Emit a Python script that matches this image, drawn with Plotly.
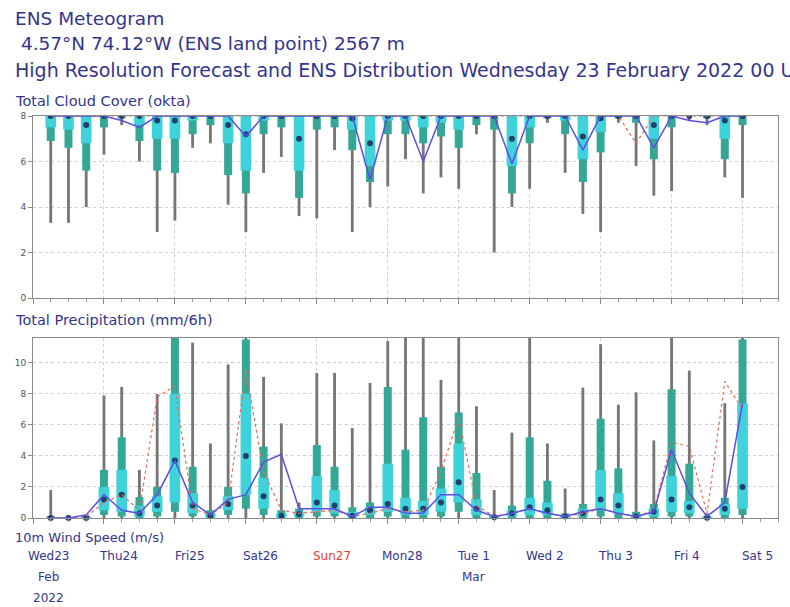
import plotly.graph_objects as go
import pandas as pd

# Pasos de 6 horas y días del eje
times = pd.date_range('2022-02-23 06:00', periods=40, freq='6h')
days = pd.date_range('2022-02-23', periods=11, freq='D')
day_labels = ['Wed23', 'Thu24', 'Fri25', 'Sat26', 'Sun27', 'Mon28', 'Tue 1', 'Wed 2', 'Thu 3', 'Fri 4', 'Sat 5']
month_labels = {'Wed23': 'Feb', 'Tue 1': 'Mar'}

# Nubosidad total (okta)
cc_min = [3.3, 3.3, 4.0, 6.3, 7.6, 6.0, 2.9, 3.4, 6.6, 6.8, 4.1, 2.9, 5.5, 6.2, 3.6, 3.5, 6.5, 2.9, 4.0, 4.9,
          6.1, 4.6, 5.3, 4.8, 7.2, 2.0, 4.0, 4.8, 7.7, 5.5, 3.7, 2.9, 7.7, 5.8, 4.5, 4.7, 7.8, 7.6, 5.3, 4.4]
cc_p10 = [6.9, 6.6, 5.6, 7.5, 7.9, 6.9, 5.6, 5.5, 7.2, 7.6, 5.4, 4.6, 7.2, 7.5, 4.4, 7.4, 7.5, 6.5, 5.1, 7.2,
          7.2, 6.8, 7.1, 6.6, 7.6, 7.4, 4.6, 6.8, 7.9, 7.2, 5.1, 6.4, 7.9, 7.7, 6.1, 7.5, 8.0, 7.9, 6.1, 7.6]
cc_p25 = [7.5, 7.4, 6.8, 8.0, 8.0, 7.6, 7.0, 7.0, 7.8, 8.0, 6.8, 5.6, 7.8, 8.0, 5.6, 8.0, 8.0, 7.4, 5.8, 7.8,
          7.8, 7.5, 7.7, 7.4, 8.0, 8.0, 5.8, 7.5, 8.0, 7.8, 6.1, 7.3, 8.0, 8.0, 7.0, 8.0, 8.0, 8.0, 7.0, 8.0]
cc_med = [8.0, 8.0, 7.6, 8.0, 8.0, 8.0, 7.8, 7.8, 8.0, 8.0, 7.6, 7.2, 8.0, 8.0, 7.0, 8.0, 8.0, 7.9, 6.8, 8.0,
          8.0, 8.0, 8.0, 8.0, 8.0, 8.0, 7.0, 8.0, 8.0, 8.0, 7.1, 7.9, 8.0, 8.0, 7.6, 8.0, 8.0, 8.0, 7.8, 8.0]
cc_p75 = [8.0, 8.0, 8.0, 8.0, 8.0, 8.0, 8.0, 8.0, 8.0, 8.0, 8.0, 8.0, 8.0, 8.0, 8.0, 8.0, 8.0, 8.0, 8.0, 8.0,
          8.0, 8.0, 8.0, 8.0, 8.0, 8.0, 8.0, 8.0, 8.0, 8.0, 8.0, 8.0, 8.0, 8.0, 8.0, 8.0, 8.0, 8.0, 8.0, 8.0]
cc_p90 = [8.0, 8.0, 8.0, 8.0, 8.0, 8.0, 8.0, 8.0, 8.0, 8.0, 8.0, 8.0, 8.0, 8.0, 8.0, 8.0, 8.0, 8.0, 8.0, 8.0,
          8.0, 8.0, 8.0, 8.0, 8.0, 8.0, 8.0, 8.0, 8.0, 8.0, 8.0, 8.0, 8.0, 8.0, 8.0, 8.0, 8.0, 8.0, 8.0, 8.0]
cc_max = [8.0, 8.0, 8.0, 8.0, 8.0, 8.0, 8.0, 8.0, 8.0, 8.0, 8.0, 8.0, 8.0, 8.0, 8.0, 8.0, 8.0, 8.0, 8.0, 8.0,
          8.0, 8.0, 8.0, 8.0, 8.0, 8.0, 8.0, 8.0, 8.0, 8.0, 8.0, 8.0, 8.0, 8.0, 8.0, 8.0, 8.0, 8.0, 8.0, 8.0]
cc_hres = [8.0, 8.0, 8.0, 8.0, 7.8, 7.5, 8.0, 8.0, 8.0, 8.0, 8.0, 7.1, 8.0, 8.0, 8.0, 8.0, 8.0, 8.0, 5.2, 8.0,
           8.0, 6.0, 8.0, 8.0, 8.0, 8.0, 5.9, 8.0, 8.0, 8.0, 6.5, 8.0, 8.0, 8.0, 6.6, 8.0, 7.8, 7.7, 8.0, 8.0]
cc_ctrl = [8.0, 8.0, 8.0, 8.0, 8.0, 8.0, 8.0, 8.0, 8.0, 8.0, 8.0, 8.0, 8.0, 8.0, 8.0, 8.0, 8.0, 8.0, 8.0, 8.0,
           8.0, 8.0, 8.0, 8.0, 8.0, 8.0, 8.0, 8.0, 8.0, 8.0, 8.0, 8.0, 8.0, 6.8, 8.0, 8.0, 8.0, 8.0, 8.0, 8.0]

# Precipitación total (mm/6h)
pr_min = [0.0, 0.0, 0.0, 0.0, 0.0, 0.0, 0.0, 0.0, 0.0, 0.0, 0.0, 0.0, 0.0, 0.0, 0.0, 0.0, 0.0, 0.0, 0.0, 0.0,
          0.0, 0.0, 0.0, 0.0, 0.0, 0.0, 0.0, 0.0, 0.0, 0.0, 0.0, 0.0, 0.0, 0.0, 0.0, 0.0, 0.0, 0.0, 0.0, 0.0]
pr_p10 = [0.0, 0.0, 0.0, 0.2, 0.1, 0.0, 0.1, 0.4, 0.1, 0.0, 0.2, 0.6, 0.2, 0.0, 0.0, 0.1, 0.1, 0.0, 0.0, 0.1,
          0.0, 0.0, 0.1, 0.4, 0.0, 0.0, 0.0, 0.0, 0.0, 0.0, 0.0, 0.1, 0.0, 0.0, 0.0, 0.1, 0.1, 0.0, 0.0, 0.2]
pr_p25 = [0.0, 0.0, 0.0, 0.5, 0.4, 0.1, 0.4, 1.0, 0.3, 0.05, 0.5, 1.5, 0.6, 0.05, 0.1, 0.4, 0.3, 0.05, 0.2, 0.4,
          0.2, 0.2, 0.4, 1.0, 0.2, 0.0, 0.1, 0.2, 0.2, 0.0, 0.1, 0.5, 0.3, 0.0, 0.1, 0.4, 0.3, 0.0, 0.2, 0.6]
pr_med = [0.0, 0.0, 0.0, 1.2, 1.5, 0.3, 0.8, 3.7, 0.8, 0.15, 0.9, 4.0, 1.4, 0.15, 0.25, 1.0, 0.8, 0.15, 0.5, 0.9,
          0.6, 0.6, 1.0, 2.3, 0.6, 0.05, 0.3, 0.7, 0.5, 0.1, 0.3, 1.2, 0.8, 0.1, 0.4, 1.2, 0.7, 0.02, 0.6, 2.0]
pr_p75 = [0.0, 0.0, 0.05, 2.0, 3.1, 0.8, 1.4, 8.0, 1.6, 0.3, 1.4, 8.0, 2.6, 0.3, 0.4, 2.7, 1.8, 0.4, 0.7, 3.5,
          1.3, 1.1, 1.9, 4.8, 1.2, 0.1, 0.5, 1.3, 1.0, 0.2, 0.6, 3.1, 1.6, 0.2, 0.6, 2.7, 1.1, 0.05, 0.9, 7.4]
pr_p90 = [0.1, 0.0, 0.1, 3.1, 5.2, 1.35, 2.0, 11.6, 3.3, 0.5, 2.0, 11.5, 4.6, 0.5, 0.6, 4.7, 3.3, 0.7, 1.0, 8.45,
          4.4, 6.5, 3.3, 6.8, 2.9, 0.2, 0.8, 5.2, 2.4, 0.3, 0.9, 6.4, 3.2, 0.4, 0.9, 8.3, 3.5, 0.1, 1.3, 11.5]
pr_max = [1.8, 0.1, 0.2, 7.9, 8.45, 3.1, 8.0, 11.6, 11.3, 4.8, 9.9, 11.6, 9.1, 6.1, 1.0, 9.35, 9.35, 5.8, 8.7, 11.4,
          15.0, 14.0, 8.9, 14.0, 7.2, 1.8, 5.5, 13.0, 4.8, 1.9, 8.4, 11.2, 7.3, 8.1, 5.0, 15.0, 9.5, 0.3, 7.4, 15.0]
pr_hres = [0.0, 0.0, 0.2, 1.5, 0.5, 0.3, 1.5, 3.7, 1.0, 0.2, 1.2, 1.5, 3.6, 4.1, 0.6, 0.6, 0.6, 0.1, 0.7, 0.7,
           0.3, 0.3, 1.5, 1.5, 0.5, 0.1, 0.3, 0.6, 0.3, 0.1, 0.4, 0.6, 0.3, 0.1, 0.4, 4.4, 1.6, 0.1, 1.0, 7.4]
pr_ctrl = [0.0, 0.0, 0.1, 1.0, 1.5, 0.5, 7.8, 8.5, 0.6, 0.2, 1.0, 9.5, 3.0, 0.5, 0.3, 0.4, 0.5, 0.1, 0.3, 0.6,
           0.4, 0.5, 3.0, 6.5, 0.8, 0.1, 0.3, 0.6, 0.3, 0.1, 0.3, 0.6, 0.3, 0.1, 0.5, 4.9, 4.6, 0.3, 8.8, 7.0]

SEIS_H = 6 * 3600 * 1000
PR_TOP = 11.6
AZUL = '#34358f'


def agregar_cajas(fig, xa, ya, vmin, p10, p25, med, p75, p90, vmax, recorte):
    # Bigote min-max, caja 10-90, caja 25-75 y mediana
    fig.add_trace(go.Bar(x=times, base=vmin, y=[b - a for a, b in zip(vmin, vmax)], width=0.16 * SEIS_H,
                         marker=dict(color='#767676', line_width=0), xaxis=xa, yaxis=ya))
    fig.add_trace(go.Bar(x=times, base=p10, y=[b - a for a, b in zip(p10, p90)], width=0.45 * SEIS_H,
                         marker=dict(color='#33a897', line_width=0), xaxis=xa, yaxis=ya))
    fig.add_trace(go.Bar(x=times, base=p25, y=[b - a for a, b in zip(p25, p75)], width=0.6 * SEIS_H,
                         marker=dict(color='#3ed3da', line_width=0), xaxis=xa, yaxis=ya))
    fig.add_trace(go.Scatter(x=times, y=med, mode='markers', cliponaxis=recorte,
                             marker=dict(symbol='circle', size=6, color='#23406a'), xaxis=xa, yaxis=ya))


def agregar_lineas(fig, xa, ya, hres, ctrl):
    fig.add_trace(go.Scatter(x=times, y=ctrl, mode='lines', line=dict(color='#ec6a52', width=1.2, dash='dot'),
                             xaxis=xa, yaxis=ya))
    fig.add_trace(go.Scatter(x=times, y=hres, mode='lines', line=dict(color='#5a4fe2', width=1.5),
                             xaxis=xa, yaxis=ya))


fig = go.Figure()
agregar_cajas(fig, 'x', 'y', cc_min, cc_p10, cc_p25, cc_med, cc_p75, cc_p90, cc_max, True)
agregar_lineas(fig, 'x', 'y', cc_hres, cc_ctrl)
agregar_cajas(fig, 'x2', 'y2', pr_min, pr_p10, pr_p25, pr_med, pr_p75, pr_p90, pr_max, False)
agregar_lineas(fig, 'x2', 'y2', pr_hres, pr_ctrl)

# Valores que salen del eje, en rojo arriba
fuera = [(t, v) for t, v in zip(times, pr_max) if v > PR_TOP]
fig.add_trace(go.Scatter(x=[t for t, v in fuera], y=[PR_TOP + 1.05] * len(fuera),
                         text=[str(int(v)) for t, v in fuera], mode='text', cliponaxis=False,
                         textfont=dict(color='#e86a6a', size=10), xaxis='x2', yaxis='y2'))

eje_x = dict(type='date', range=['2022-02-23 00:00', '2022-03-05 12:00'], domain=[33 / 790, 778 / 790],
             tick0='2022-02-23', dtick=86400000, showticklabels=False, ticks='outside', ticklen=5,
             tickcolor='#8a8a8a', showgrid=True, gridcolor='#cfcfcf', griddash='dot', automargin=False,
             showline=True, linecolor='#8a8a8a', mirror=True, zeroline=False,
             minor=dict(dtick=SEIS_H, ticks='outside', ticklen=3, tickcolor='#9a9a9a', showgrid=False))
eje_y = dict(ticks='outside', ticklen=4, tickcolor='#8a8a8a', tickfont=dict(size=9, color='#555555'),
             showgrid=True, gridcolor='#cfcfcf', griddash='dot', showline=True, linecolor='#8a8a8a',
             mirror=True, zeroline=False, automargin=False)

fig.update_layout(
    width=790, height=607, margin=dict(l=0, r=0, t=0, b=0, pad=0, autoexpand=False),
    paper_bgcolor='white', plot_bgcolor='white', showlegend=False, barmode='overlay',
    font=dict(family='DejaVu Sans', color=AZUL),
    xaxis=dict(eje_x, anchor='y'),
    yaxis=dict(eje_y, domain=[1 - 298 / 607, 1 - 116 / 607], range=[0, 8], tickvals=[0, 2, 4, 6, 8]),
    xaxis2=dict(eje_x, anchor='y2', matches='x'),
    yaxis2=dict(eje_y, domain=[1 - 518 / 607, 1 - 338 / 607], range=[0, PR_TOP], tickvals=[0, 2, 4, 6, 8, 10]),
)

# Títulos
titulos = [('ENS Meteogram', 18, 18.5), (' 4.57°N 74.12°W (ENS land point) 2567 m', 44, 18.5),
           ('High Resolution Forecast and ENS Distribution Wednesday 23 February 2022 00 UTC', 70, 19),
           ('Total Cloud Cover (okta)', 101, 14.5), ('Total Precipitation (mm/6h)', 320, 14.5),
           ('10m Wind Speed (m/s)', 537, 13)]
for texto, py, size in titulos:
    fig.add_annotation(text=texto, x=13 / 790, y=1 - py / 607, xref='paper', yref='paper',
                       xanchor='left', yanchor='middle', showarrow=False, font=dict(size=size, color=AZUL))

# Etiquetas de días
for d, lab in zip(days, day_labels):
    color = '#e8402e' if lab.startswith('Sun') else AZUL
    fig.add_annotation(text=lab, x=d, y=1 - 556 / 607, xref='x2', yref='paper', xshift=15, yanchor='middle',
                       showarrow=False, font=dict(size=12, color=color))
    if lab in month_labels:
        fig.add_annotation(text=month_labels[lab], x=d, y=1 - 577 / 607, xref='x2', yref='paper', xshift=15,
                           yanchor='middle', showarrow=False, font=dict(size=12, color=AZUL))
fig.add_annotation(text='2022', x=days[0], y=1 - 598 / 607, xref='x2', yref='paper', xshift=15,
                   yanchor='middle', showarrow=False, font=dict(size=12, color=AZUL))

# Sin margen del body para que la figura ocupe la ventana
fig.write_html('out.html', config={'displayModeBar': False},
               post_script="document.body.style.margin='0';")
